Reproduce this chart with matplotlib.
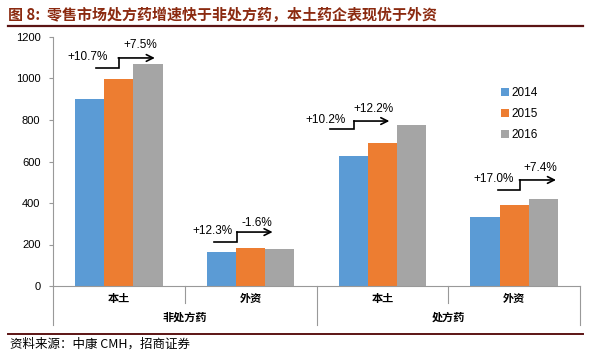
import matplotlib.pyplot as plt
import numpy as np
from matplotlib.lines import Line2D

plt.rcParams['font.family'] = ['Noto Sans CJK SC', 'DejaVu Sans']

# %% data
years = ['2014', '2015', '2016']
groups = ['本土', '外资', '本土', '外资']
segments = ['非处方药', '处方药']
v2014 = [900, 162, 627, 334]
v2015 = [997, 182, 691, 391]
v2016 = [1071, 179, 775, 420]
growth_1 = ['+10.7%', '+12.3%', '+10.2%', '+17.0%']
growth_2 = ['+7.5%', '-1.6%', '+12.2%', '+7.4%']
colors = ['#5B9BD5', '#ED7D31', '#A5A5A5']

# %% figure
W, H = 591, 354
fig = plt.figure(figsize=(W / 100, H / 100), dpi=100)
ax = fig.add_axes([53 / W, 1 - 286 / H, (580 - 53) / W, (286 - 37) / H])

x = np.arange(len(groups))
bw = 0.222
for i, (vals, c) in enumerate(zip([v2014, v2015, v2016], colors)):
    ax.bar(x + (i - 1) * bw, vals, bw, color=c, label=years[i], zorder=2)

ax.set_xlim(-0.5, len(groups) - 0.5)
ax.set_ylim(0, 1200)
ax.set_yticks(range(0, 1201, 200))
ax.tick_params(axis='y', labelsize=8, length=3, color='#999999', pad=6)
ax.set_xticks([])
for s in ['top', 'right']:
    ax.spines[s].set_visible(False)
for s in ['left', 'bottom']:
    ax.spines[s].set_color('#999999')
    ax.spines[s].set_linewidth(0.8)
for lbl in ax.get_yticklabels():
    lbl.set_family(['Liberation Sans', 'DejaVu Sans'])

# step arrows: text1 x, start x, step x, end x, text2 x, y0, y1, text2 y
# offsets are relative to group centre
arrows = [
    (-0.24, -0.174, 0.0, 0.273, 0.16, 1051, 1099, 1161),
    (-0.288, -0.28, -0.10, 0.167, 0.045, 212, 260, 304),
    (-0.43, -0.40, -0.212, 0.053, -0.068, 757, 795, 853),
    (-0.159, -0.121, 0.045, 0.318, 0.197, 463, 511, 569),
]
for k, (t1x, sx, mx, ex, t2x, y0, y1, t2y) in enumerate(arrows):
    ax.plot([k + sx, k + mx, k + mx], [y0, y0, y1], color='black', lw=1.2,
            solid_joinstyle='miter', zorder=3)
    ax.annotate('', xy=(k + ex, y1), xytext=(k + mx - 0.005, y1),
                arrowprops=dict(arrowstyle='->', color='black', lw=1.2,
                                shrinkA=0, shrinkB=0, mutation_scale=12), zorder=3)
    ax.text(k + t1x, y1 + 5, growth_1[k], ha='center', va='center', fontsize=8.5,
            family=['Liberation Sans', 'DejaVu Sans'])
    ax.text(k + t2x, t2y, growth_2[k], ha='center', va='center', fontsize=8.5,
            family=['Liberation Sans', 'DejaVu Sans'])

# two-level category axis
trans = ax.get_xaxis_transform()
for xb, long in [(-0.5, True), (0.5, False), (1.5, True), (2.5, False), (3.5, True)]:
    bottom = -0.157 if long else -0.07
    ax.add_line(Line2D([xb, xb], [0, bottom], transform=trans, color='#999999',
                       lw=0.8, clip_on=False))
for k, g in enumerate(groups):
    ax.text(k, -0.05, g, transform=trans, ha='center', va='center', fontsize=8,
            fontweight='bold')
for k, s in enumerate(segments):
    ax.text(2 * k + 0.5, -0.125, s, transform=trans, ha='center', va='center',
            fontsize=8, fontweight='bold')

leg = ax.legend(loc='upper left', bbox_to_anchor=(0.83, 0.84), frameon=False,
                handlelength=0.7, handleheight=0.7, handletextpad=0.2,
                labelspacing=0.75, prop={'family': ['Liberation Sans', 'DejaVu Sans'],
                                          'size': 8.5})

# title and source
fig.text(8 / W, 1 - 15 / H, '图 8:  零售市场处方药增速快于非处方药，本土药企表现优于外资',
         color='#8B2A10', fontsize=10.8, fontweight='bold', va='center', ha='left')
fig.add_artist(Line2D([8 / W, 583 / W], [1 - 25.5 / H] * 2, color='#5C1414', lw=1.6))
fig.add_artist(Line2D([8 / W, 583 / W], [1 - 334 / H] * 2, color='#5C1414', lw=1.4))
fig.text(10 / W, 1 - 344 / H, '资料来源：中康 CMH，招商证券', fontsize=9,
         va='center', ha='left')

fig.savefig('out.png', dpi=100)
